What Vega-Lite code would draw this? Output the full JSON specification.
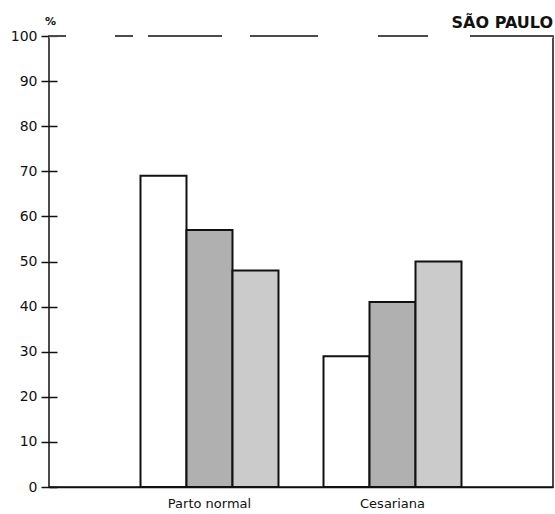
{
  "$schema": "https://vega.github.io/schema/vega-lite/v6.json",
  "width": 504,
  "height": 451,
  "autosize": {"type": "none"},
  "padding": {"left": 49, "top": 36, "right": 2, "bottom": 27},
  "background": "#ffffff",
  "title": {
    "text": "SÃO PAULO",
    "anchor": "end",
    "frame": "group",
    "font": "DejaVu Sans",
    "fontSize": 16,
    "fontWeight": "bold",
    "color": "#111111",
    "offset": 0,
    "dy": 16
  },
  "config": {
    "view": {"stroke": "#111111", "strokeWidth": 1.5},
    "font": "DejaVu Sans"
  },
  "data": {
    "values": [
      {"tipo": "Parto normal", "serie": "A", "valor": 69},
      {"tipo": "Parto normal", "serie": "B", "valor": 57},
      {"tipo": "Parto normal", "serie": "C", "valor": 48},
      {"tipo": "Cesariana", "serie": "A", "valor": 29},
      {"tipo": "Cesariana", "serie": "B", "valor": 41},
      {"tipo": "Cesariana", "serie": "C", "valor": 50}
    ]
  },
  "layer": [
    {
      "mark": {"type": "bar", "stroke": "#111111", "strokeWidth": 2},
      "encoding": {
        "x": {
          "field": "tipo",
          "type": "nominal",
          "sort": ["Parto normal", "Cesariana"],
          "scale": {"paddingInner": 0.246, "paddingOuter": 0.5},
          "axis": {
            "title": null,
            "ticks": false,
            "labelAngle": 0,
            "labelPadding": 10,
            "labelFontSize": 13,
            "labelColor": "#111111",
            "domainColor": "#111111",
            "domainWidth": 1.5
          }
        },
        "xOffset": {
          "field": "serie",
          "type": "nominal",
          "scale": {"paddingInner": 0, "paddingOuter": 0}
        },
        "y": {
          "field": "valor",
          "type": "quantitative",
          "scale": {"domain": [0, 100], "nice": false},
          "axis": {
            "orient": "left",
            "offset": -8,
            "title": "%",
            "titleAngle": 0,
            "titleX": -7,
            "titleY": -10,
            "titleAlign": "center",
            "titleBaseline": "bottom",
            "titleFontSize": 11,
            "titleFontWeight": "bold",
            "titleColor": "#111111",
            "values": [0, 10, 20, 30, 40, 50, 60, 70, 80, 90, 100],
            "tickSize": 16,
            "tickColor": "#111111",
            "tickWidth": 1.5,
            "labelPadding": 4,
            "labelFontSize": 14,
            "labelColor": "#111111",
            "domain": false,
            "grid": false
          }
        },
        "color": {
          "field": "serie",
          "type": "nominal",
          "scale": {"domain": ["A", "B", "C"], "range": ["#ffffff", "#b0b0b0", "#cbcbcb"]},
          "legend": null
        }
      }
    },
    {
      "data": {"values": [{"topo": 100}]},
      "mark": {"type": "rule", "stroke": "#ffffff", "strokeWidth": 3},
      "encoding": {
        "y": {"field": "topo", "type": "quantitative"}
      }
    },
    {
      "data": {"values": [{"topo": 100}]},
      "mark": {
        "type": "rule",
        "stroke": "#111111",
        "strokeWidth": 1.5,
        "strokeDash": [83, 42, 50, 60, 68, 28, 74, 15, 18, 49, 17, 40]
      },
      "encoding": {
        "y": {"field": "topo", "type": "quantitative"}
      }
    }
  ]
}
